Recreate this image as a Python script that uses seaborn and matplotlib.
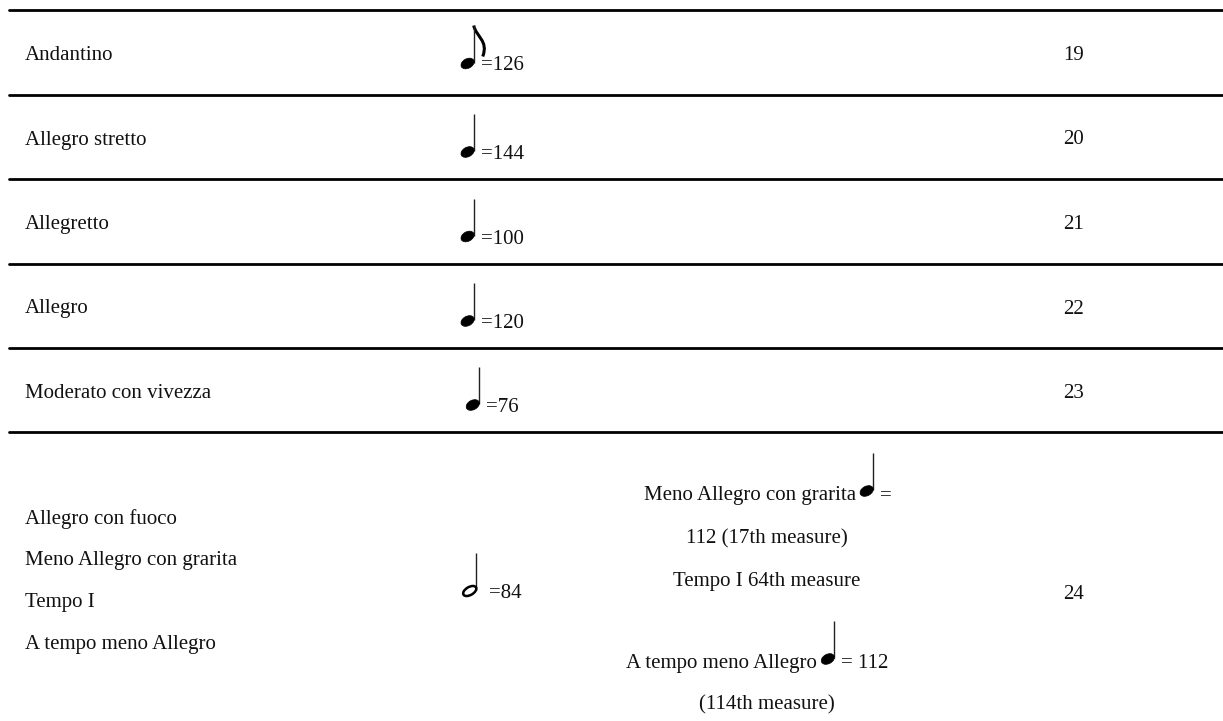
import pandas as pd
import numpy as np
import seaborn as sns
import matplotlib.pyplot as plt
from matplotlib.patches import Ellipse, PathPatch
from matplotlib.path import Path

# table contents
tempo_names = [["Andantino"], ["Allegro stretto"], ["Allegretto"], ["Allegro"],
               ["Moderato con vivezza"],
               ["Allegro con fuoco", "Meno Allegro con grarita", "Tempo I", "A tempo meno Allegro"]]
note_kinds = ["eighth", "quarter", "quarter", "quarter", "quarter", "half"]
bpm_values = ["126", "144", "100", "120", "76", "84"]
piece_nums = ["19", "20", "21", "22", "23", "24"]
remark_lines = [("Meno Allegro con grarita", "quarter", "="),
                ("112 (17th measure)", None, None),
                ("Tempo I 64th measure", None, None),
                ("A tempo meno Allegro", "quarter", "= 112"),
                ("(114th measure)", None, None)]

W, H = 1223, 721
sns.set_theme(style="white")
plt.rcParams['font.family'] = ['Liberation Serif', 'DejaVu Serif']
FS = 15
TXT = '#111111'

fig = plt.figure(figsize=(W / 100, H / 100), dpi=100)
ax = fig.add_axes([0, 0, 1, 1])

# horizontal rules between rows
rule_y = [10, 95, 179, 264, 348, 432]
rules = pd.DataFrame({'x': np.tile([9, W], len(rule_y)),
                      'y': np.repeat(rule_y, 2),
                      'row': np.repeat(range(len(rule_y)), 2)})
sns.lineplot(data=rules, x='x', y='y', units='row', estimator=None,
             color='black', lw=2.0, ax=ax, legend=False)


def draw_note(x, y, kind):
    filled = kind != "half"
    if filled:
        ax.add_patch(Ellipse((x, y), 14, 9.5, angle=-28, fc='black', ec='black',
                             lw=0.5, zorder=3))
    else:
        ax.add_patch(Ellipse((x, y), 14.5, 8, angle=-30, fc='none', ec='black',
                             lw=1.8, zorder=3))
    sx = x + 6.2
    top = y - 38
    ax.plot([sx, sx], [y - 1, top], color='#222222', lw=1.0, solid_capstyle='butt')
    if kind == "eighth":
        verts = [(sx, top), (sx + 2, top + 11), (sx + 15, top + 15), (sx + 9, top + 31)]
        codes = [Path.MOVETO, Path.CURVE4, Path.CURVE4, Path.CURVE4]
        ax.add_patch(PathPatch(Path(verts, codes), fc='none', ec='black', lw=2.2))


col1_x, col2_c, col4_x, col3_c = 25, 493, 1063, 767
for i, names in enumerate(tempo_names):
    top, bot = rule_y[i], (rule_y[i + 1] if i + 1 < len(rule_y) else None)
    if bot is not None:
        mid = (top + bot) / 2
        ax.text(col1_x, mid + 7.5, names[0], fontsize=FS, color=TXT, va='baseline', ha='left')
        ax.text(col4_x, mid + 7.5, piece_nums[i], fontsize=FS, color=TXT, va='baseline', ha='left')
        ny = mid + (11 if note_kinds[i] == "eighth" else 15)
    else:
        for j, nm in enumerate(names):
            ax.text(col1_x, 524 + j * 41.5, nm, fontsize=FS, color=TXT, va='baseline', ha='left')
        ax.text(col4_x, 599, piece_nums[i], fontsize=FS, color=TXT, va='baseline', ha='left')
        ny = 591
    txt = "=" + bpm_values[i]
    tw = 11.7 + 10.4 * len(bpm_values[i])
    gap = 6 if note_kinds[i] == "half" else 0
    start = col2_c - (14 + 4 + gap + tw) / 2
    draw_note(start + 5, ny, note_kinds[i])
    ax.text(start + 18 + gap, ny + 7, txt, fontsize=FS, color=TXT, va='baseline', ha='left')

# remarks column for the last row
rem_base = [500, 543, 586, 668, 709]
for (txt, note, after), yb in zip(remark_lines, rem_base):
    if note is None:
        ax.text(col3_c, yb, txt, fontsize=FS, color=TXT, va='baseline', ha='center')
    else:
        aw = 11.7 + (10.4 * 4 if len(after) > 1 else 0)
        tw = len(txt) * 9.0
        total = tw + 8 + 13 + 6 + aw
        left = col3_c - total / 2
        ax.text(left + tw, yb, txt, fontsize=FS, color=TXT, va='baseline', ha='right')
        draw_note(left + tw + 11, yb - 9, note)
        ax.text(left + tw + 24, yb, after, fontsize=FS, color=TXT, va='baseline', ha='left')

ax.set_xlim(0, W)
ax.set_ylim(H, 0)
ax.axis('off')
fig.savefig('out.png', dpi=100, facecolor='white')
